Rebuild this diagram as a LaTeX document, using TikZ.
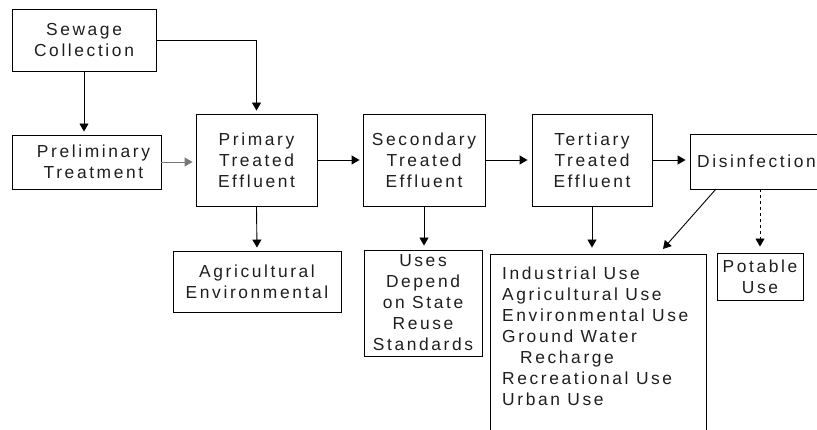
\documentclass[tikz,border=0pt]{standalone}
\usepackage{fontspec}
\setmainfont{Liberation Sans}[LetterSpace=15]
\usetikzlibrary{arrows.meta}
\definecolor{ink}{HTML}{1E1E1E}
\begin{document}
\begin{tikzpicture}[x=1pt,y=-1pt,
        box/.style={draw, line width=0.9pt, inner sep=0pt, align=center, text=ink},
        arr/.style={-{Triangle[length=8pt,width=9pt]}, line width=0.9pt, shorten >=3pt},
        font=\fontsize{17.4}{21}\selectfont]
        \clip (0,0) rectangle (817,430);
        \node[box, minimum width=144pt, minimum height=62pt] (sewage) at (84,40) {Sewage\\Collection};
        \node[box, minimum width=149pt, minimum height=54pt] (prelim) at (86.5,162) {\hspace*{14pt}Preliminary\\\hspace*{14pt}Treatment};
        \node[box, minimum width=121pt, minimum height=92pt] (primary) at (256.5,160) {Primary\\Treated\\Effluent};
        \node[box, minimum width=122pt, minimum height=92pt] (secondary) at (424,160) {Secondary\\Treated\\Effluent};
        \node[box, minimum width=120pt, minimum height=92pt] (tertiary) at (592,160) {Tertiary\\Treated\\Effluent};
        \node[box, minimum width=145pt, minimum height=55pt] (disinf) at (762.5,161.5) {};
        \node[anchor=east, inner sep=0pt, text=ink] (disinftext) at (816,161.5) {Disinfection};
        \node[box, minimum width=168pt, minimum height=61pt] (agri) at (257,281.5) {Agricultural\\Environmental};
        \node[box, minimum width=118pt, minimum height=106pt] (depend) at (423,303) {Uses\\Depend\\on State\\Reuse\\Standards};
        \node[box, minimum width=216pt, minimum height=200pt] (allbox) at (598,354) {};
        \node[anchor=north west, align=left, inner sep=0pt, text=ink] (alluses) at (502,267)
            {Industrial Use\\Agricultural Use\\Environmental Use\\Ground Water\\\hspace*{18pt}Recharge\\Recreational Use\\Urban Use};
        \node[box, minimum width=86pt, minimum height=47pt] (potable) at (760,276.5) {Potable\\Use};
        \coordinate (diagfrom) at (716,189);
        \coordinate (diagto) at (663,249);
        \draw[arr] (sewage.south) -- (sewage.south |- prelim.north);
        \draw[arr] (sewage.east) -| (primary.north);
        \draw[arr, draw=ink!60] (prelim.east) -- (prelim.east -| primary.west);
        \draw[arr] (primary.east) -- (secondary.west);
        \draw[arr, shorten >=4pt] (secondary.east) -- (tertiary.west);
        \draw[arr, shorten >=4pt] (tertiary.east) -- (tertiary.east -| disinf.west);
        \draw[arr] (primary.south) -- (agri.north);
        \draw[arr, shorten >=4pt] (secondary.south) -- (secondary.south |- depend.north);
        \draw[arr, shorten >=6pt] (tertiary.south) -- (tertiary.south |- allbox.north);
        \draw[arr, shorten >=0pt] (diagfrom) -- (diagto);
        \draw[arr, dashed, shorten >=6pt] (disinf.south -| potable.north) -- (potable.north);
\end{tikzpicture}
\end{document}
